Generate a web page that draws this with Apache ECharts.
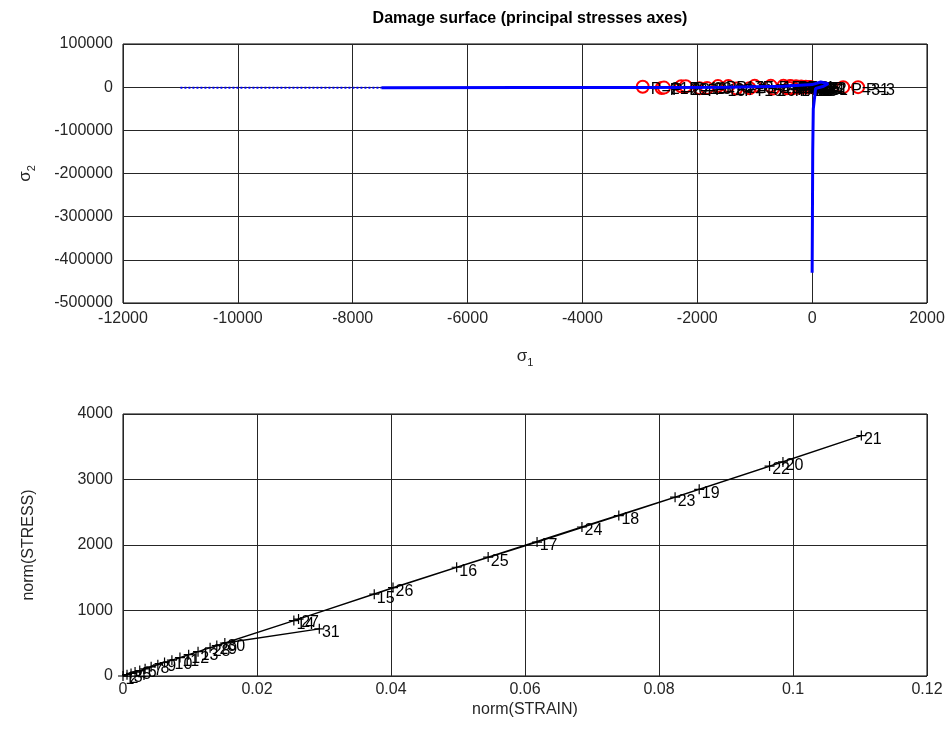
<!DOCTYPE html>
<html>
<head>
<meta charset="utf-8">
<script src="https://cdn.jsdelivr.net/npm/echarts@6/dist/echarts.min.js"></script>
<style>
html,body{margin:0;padding:0;background:#fff;}
#c{width:952px;height:733px;}
</style>
</head>
<body>
<div id="c"></div>
<script>
// ---- Top chart: damage surface (sigma1, sigma2) ----
const surfaceDottedS1 = [-11000, -9500, -8000, -7500];
const surfaceDottedS2 = [-1500, -1400, -1300, -1200];
const surfaceSolidS1 = [-7500, -5000, -3000, -1500, -500, 0, 150, 280, 200, 60, 20, 10, 5, 0];
const surfaceSolidS2 = [-1200, -900, -500, 0, 2000, 6000, 12000, 8000, 2000, -3000, -50000, -150000, -300000, -430000];

const pointNames = ['P=1','P=2','P=3','P=4','P=5','P=6','P=7','P=8','P=9','P=10','P=11','P=12','P=13','P=14','P=15','P=16','P=17','P=18','P=19','P=20','P=21','P=22','P=23','P=24','P=25','P=26','P=27','P=28','P=29','P=30','P=31'];
const pointS1 = [-20, -40, 800, -80, -110, -150, -190, -230, -280, -330, -380, -440, -500, -680, -1000, -1320, -1640, -1960, -2280, -2620, -2950, -2580, -2200, -1830, -1460, -1090, -720, -360, -380, -400, 540];
const pointS2 = [0, 500, 0, -500, 1000, -1000, 1500, -1500, 2000, -2000, 2500, -2500, 3000, -3000, 3000, -3000, 2500, -2500, 2000, -2000, 1000, -1000, 2000, -2000, 2500, -2500, 3000, -3000, 2000, -2000, 0];

// ---- Bottom chart: norm(STRAIN) vs norm(STRESS) ----
const stepLabels = ['1','2','3','4','5','6','7','8','9','10','11','12','13','14','15','16','17','18','19','20','21','22','23','24','25','26','27','28','29','30','31'];
const normStrain = [0, 0.0006, 0.0012, 0.0018, 0.0025, 0.0033, 0.0042, 0.0052, 0.0062, 0.0073, 0.0085, 0.0098, 0.0112, 0.0255, 0.0375, 0.0498, 0.0618, 0.0740, 0.0860, 0.0985, 0.1102, 0.0965, 0.0824, 0.0685, 0.0545, 0.0403, 0.0262, 0.0130, 0.0140, 0.0152, 0.0293];
const normStress = [0, 20, 40, 60, 83, 110, 140, 172, 206, 242, 282, 325, 372, 846, 1250, 1660, 2045, 2450, 2850, 3268, 3670, 3205, 2730, 2275, 1815, 1350, 869, 431, 465, 504, 720];

const topXTicks = {min: -12000, max: 2000, interval: 2000};
const topYTicks = {min: -500000, max: 100000, interval: 100000};
const botXTicks = {min: 0, max: 0.12, interval: 0.02};
const botYTicks = {min: 0, max: 4000, interval: 1000};

const FONT = 'Liberation Sans';
const zip = (a, b) => a.map((v, i) => [v, b[i]]);
const plainNum = v => String(+(+v).toFixed(10));

const chart = echarts.init(document.getElementById('c'), null, {renderer: 'canvas'});

const gridLine = {show: true, lineStyle: {color: '#262626', width: 1}};
const axLabel = {color: '#262626', fontSize: 16, fontFamily: FONT, formatter: plainNum};
function valAxis(extra, ticks) {
  return Object.assign({
    type: 'value', min: ticks.min, max: ticks.max, interval: ticks.interval,
    axisLine: {show: false}, axisTick: {show: false},
    splitLine: gridLine, axisLabel: Object.assign({}, axLabel),
    nameTextStyle: {color: '#262626', fontSize: 16, fontFamily: FONT}
  }, extra);
}

const plusPath = 'path://M0,5L10,5M5,0L5,10';
const subRich = {rich: {a: {fontSize: 17, fontFamily: FONT, color: '#262626'}, b: {fontSize: 11, fontFamily: FONT, color: '#262626', padding: [12, 0, 0, 0]}}};

chart.setOption({
  animation: false,
  backgroundColor: '#fff',
  title: {
    text: 'Damage surface (principal stresses axes)',
    left: 525, top: 6, textAlign: 'center',
    textStyle: {fontFamily: FONT, fontSize: 16, fontWeight: 'bold', color: '#000'}
  },
  grid: [
    {left: 123, top: 44, width: 804, height: 259, show: true, borderColor: '#000', borderWidth: 1, backgroundColor: 'transparent'},
    {left: 123, top: 414, width: 804, height: 262, show: true, borderColor: '#000', borderWidth: 1, backgroundColor: 'transparent'}
  ],
  xAxis: [
    valAxis({gridIndex: 0, name: '{a|σ}{b|1}', nameLocation: 'middle', nameGap: 42,
      axisLabel: Object.assign({}, axLabel, {margin: 8}),
      nameTextStyle: subRich
    }, topXTicks),
    valAxis({gridIndex: 1, name: 'norm(STRAIN)', nameLocation: 'middle', nameGap: 26,
      axisLabel: Object.assign({}, axLabel, {margin: 6})
    }, botXTicks)
  ],
  yAxis: [
    valAxis({gridIndex: 0, name: '{a|σ}{b|2}', nameLocation: 'middle', nameGap: 86, nameRotate: 90,
      axisLabel: Object.assign({}, axLabel, {margin: 10}),
      nameTextStyle: subRich
    }, topYTicks),
    valAxis({gridIndex: 1, name: 'norm(STRESS)', nameLocation: 'middle', nameGap: 86, nameRotate: 90,
      axisLabel: Object.assign({}, axLabel, {margin: 10})
    }, botYTicks)
  ],
  series: [
    {
      type: 'line', xAxisIndex: 0, yAxisIndex: 0, data: zip(surfaceDottedS1, surfaceDottedS2),
      showSymbol: false, lineStyle: {color: '#0000ff', width: 2, type: [2, 2]}, z: 3
    },
    {
      type: 'line', xAxisIndex: 0, yAxisIndex: 0,
      data: pointS1.map((v, i) => ({value: [v, pointS2[i]], name: pointNames[i]})),
      symbol: 'emptyCircle', symbolSize: 12,
      itemStyle: {color: '#ff0000', borderColor: '#ff0000', borderWidth: 2},
      lineStyle: {color: '#000', width: 1.5},
      label: {show: true, position: 'right', distance: 1, offset: [0, 3], formatter: p => p.name,
        color: '#000', fontSize: 16, fontFamily: FONT},
      z: 4
    },
    {
      type: 'line', xAxisIndex: 0, yAxisIndex: 0, data: zip(surfaceSolidS1, surfaceSolidS2),
      showSymbol: false, lineStyle: {color: '#0000ff', width: 3}, z: 5
    },
    {
      type: 'line', xAxisIndex: 1, yAxisIndex: 1,
      data: normStrain.map((v, i) => ({value: [v, normStress[i]], name: stepLabels[i]})),
      symbol: plusPath, symbolSize: 10,
      itemStyle: {color: '#000', borderColor: '#000', borderWidth: 1.2},
      lineStyle: {color: '#000', width: 1.3},
      label: {show: true, position: 'right', distance: 0, offset: [-3, 4], formatter: p => p.name,
        color: '#000', fontSize: 16, fontFamily: FONT},
      z: 4
    }
  ]
});
</script>
</body>
</html>
